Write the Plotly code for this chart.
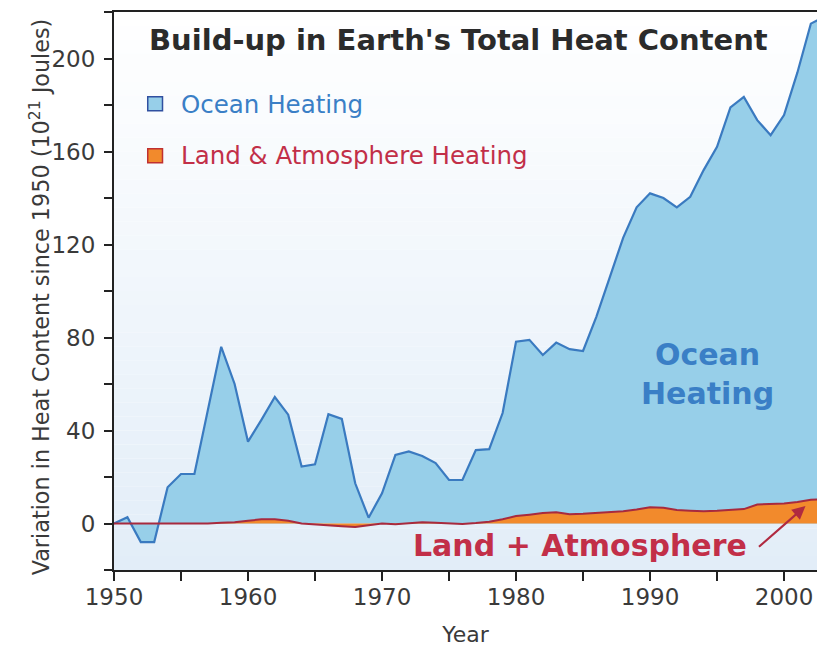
import plotly.graph_objects as go

years = list(range(1950, 2004))
ocean = [0, 2.7, -8, -8, 15.6, 21.3, 21.3, 48, 76, 60,
         35.2, 44.6, 54.4, 46.8, 24.5, 25.5, 47, 45, 17.3, 2.5,
         13, 29.5, 31, 29, 26, 18.7, 18.7, 31.6, 32, 47.5,
         78.2, 79, 72.5, 77.8, 75, 74.2, 89, 106, 123, 136,
         142, 140, 136, 140.5, 152, 162, 179, 183.5, 173.5, 167,
         175.7, 194, 215, 218]
land = [0, 0, 0, -0.3, 0, 0, -0.3, 0, 0.3, 0.5,
        1.2, 1.8, 1.8, 1.2, 0, -0.5, -0.8, -1.2, -1.5, -0.8,
        0, -0.3, 0, 0.5, 0.3, 0, -0.2, 0.2, 0.8, 1.8,
        3.2, 3.8, 4.5, 4.8, 4.0, 4.2, 4.6, 4.8, 5.3, 6.0,
        7.0, 6.8, 5.8, 5.5, 5.3, 5.5, 5.8, 6.2, 8.2, 8.4,
        8.6, 9.2, 10.2, 10.5]

y_ticks = [0, 40, 80, 120, 160, 200]
y_minor = [-20, 20, 60, 100, 140, 180, 220]
x_ticks = [1950, 1960, 1970, 1980, 1990, 2000]

FONT = "DejaVu Sans, Liberation Sans, Arial, sans-serif"
OCEAN_FILL = "#97cfe9"
OCEAN_LINE = "#3a7ac0"
LAND_FILL = "#f28a2c"
LAND_LINE = "#a82a3e"
BLUE_TEXT = "#3a7fc6"
RED_TEXT = "#c22f48"
AXIS = "#222222"
TEXT = "#3a3a3a"

fig = go.Figure()
fig.add_trace(go.Scatter(x=years, y=ocean, mode="lines", fill="tozeroy",
                         fillcolor=OCEAN_FILL, line=dict(color=OCEAN_LINE, width=2.2),
                         name="Ocean Heating", showlegend=False))
fig.add_trace(go.Scatter(x=years, y=land, mode="lines", fill="tozeroy",
                         fillcolor=LAND_FILL, line=dict(color=LAND_LINE, width=2),
                         name="Land & Atmosphere Heating", showlegend=False))

# background gradient (white at top to pale blue at bottom)
n = 40
top = (255, 255, 255)
bot = (226, 237, 248)
shapes = []
for i in range(n):
    t = (i + 0.5) / n
    c = tuple(int(round(top[k] + (bot[k] - top[k]) * t)) for k in range(3))
    shapes.append(dict(type="rect", xref="paper", yref="paper",
                       x0=0, x1=1, y0=1 - (i + 1) / n, y1=1 - i / n,
                       fillcolor="rgb(%d,%d,%d)" % c, line=dict(width=0), layer="below"))
# legend swatches
shapes.append(dict(type="rect", xref="paper", yref="paper", x0=0.048, x1=0.069,
                   y0=0.823, y1=0.848, fillcolor=OCEAN_FILL,
                   line=dict(color="#3050a0", width=1.5)))
shapes.append(dict(type="rect", xref="paper", yref="paper", x0=0.048, x1=0.069,
                   y0=0.730, y1=0.755, fillcolor=LAND_FILL,
                   line=dict(color="#c03030", width=1.5)))

annotations = [
    dict(text="<b>Build-up in Earth's Total Heat Content</b>", xref="paper", yref="paper",
         x=0.047, y=0.95, xanchor="left", yanchor="middle", showarrow=False,
         font=dict(family=FONT, size=29, color="#2b2b2b")),
    dict(text="Ocean Heating", xref="paper", yref="paper", x=0.093, y=0.835,
         xanchor="left", yanchor="middle", showarrow=False,
         font=dict(family=FONT, size=24.5, color=BLUE_TEXT)),
    dict(text="Land & Atmosphere Heating", xref="paper", yref="paper", x=0.093, y=0.742,
         xanchor="left", yanchor="middle", showarrow=False,
         font=dict(family=FONT, size=24.5, color=RED_TEXT)),
    dict(text="<b>Ocean<br>Heating</b>", x=1994.3, y=64.5, xref="x", yref="y",
         showarrow=False, font=dict(family=FONT, size=30, color=BLUE_TEXT)),
    dict(text="<b>Land + Atmosphere</b>", x=1984.8, y=-9.3, xref="x", yref="y",
         showarrow=False, font=dict(family=FONT, size=30, color=RED_TEXT)),
    dict(text="", x=2001.6, y=7.5, xref="x", yref="y", ax=-48, ay=42,
         showarrow=True, arrowhead=2, arrowsize=1.2, arrowwidth=2.2, arrowcolor="#b02a40"),
    dict(text="Variation in Heat Content since 1950 (10<sup>21</sup> Joules)",
         xref="paper", yref="paper", x=-0.105, y=0.489, textangle=-90,
         xanchor="center", yanchor="middle", showarrow=False,
         font=dict(family=FONT, size=22.3, color=TEXT)),
]

fig.update_layout(
    width=817, height=648,
    margin=dict(l=114, r=0, t=12, b=78),
    paper_bgcolor="white", plot_bgcolor="white",
    shapes=shapes, annotations=annotations,
    font=dict(family=FONT, size=22, color=TEXT),
)
fig.update_xaxes(range=[1950, 2002.46], tickvals=x_ticks, ticks="outside", ticklen=9,
                 tickwidth=1.5, tickcolor=AXIS, showline=True, linecolor=AXIS,
                 linewidth=2, mirror=True, showgrid=False, zeroline=False,
                 tickfont=dict(family=FONT, size=23, color=TEXT), ticklabelstandoff=-4,
                 minor=dict(dtick=5, ticks="outside", ticklen=9, tickcolor=AXIS, tickwidth=1.5),
                 title=dict(text="Year", font=dict(family=FONT, size=22, color=TEXT), standoff=18))
fig.update_yaxes(range=[-20, 220], tickvals=y_ticks, ticks="outside", ticklen=8,
                 tickwidth=1.5, tickcolor=AXIS, showline=True, linecolor=AXIS,
                 linewidth=2, showgrid=False, zeroline=False,
                 tickfont=dict(family=FONT, size=23, color=TEXT), ticklabelstandoff=4,
                 minor=dict(tickvals=y_minor, ticks="outside",
                            ticklen=8, tickcolor=AXIS, tickwidth=1.5))

fig.write_html("out.html", config={"displayModeBar": False},
               post_script="document.body.style.margin='0';"
                           "document.documentElement.style.overflow='hidden';"
                           "document.body.style.overflow='hidden';")
